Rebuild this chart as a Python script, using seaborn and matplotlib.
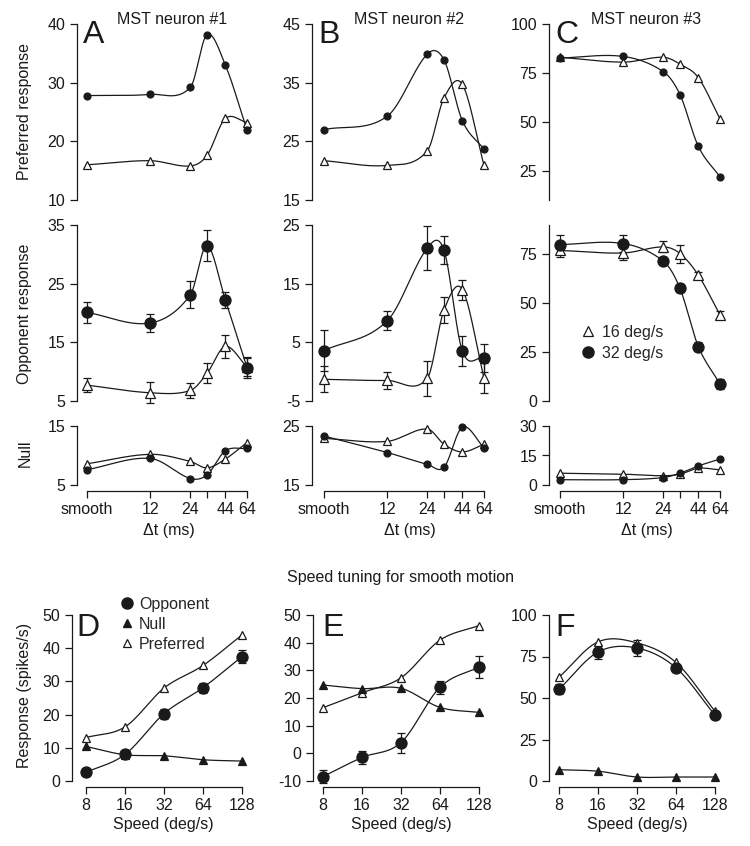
import numpy as np
import pandas as pd
import matplotlib
matplotlib.use('Agg')
import matplotlib.pyplot as plt
import seaborn as sns
from matplotlib.lines import Line2D

# delta-t conditions; 'smooth' is drawn at 4 ms on the log2 axis
dt_ms = [4, 12, 24, 32, 44, 64]
dt_labels = ['smooth', '12', '24', '', '44', '64']
speeds = [8, 16, 32, 64, 128]

# preferred response (top row): 32 deg/s filled, 16 deg/s open
pref32_A = [27.8, 28.0, 29.2, 38.2, 33.0, 21.9]
pref16_A = [16.0, 16.7, 15.8, 17.6, 23.9, 23.2]
pref32_B = [27.0, 29.3, 39.9, 38.9, 28.5, 23.7]
pref16_B = [21.7, 20.9, 23.4, 32.4, 34.7, 20.9]
pref32_C = [82.6, 83.4, 75.6, 63.9, 37.4, 21.8]
pref16_C = [83.0, 80.5, 83.0, 79.5, 72.5, 51.5]

# opponent response (middle row) with error bars
opp32_A = [20.1, 18.3, 23.1, 31.5, 22.2, 10.7]
opp32_A_err = [1.8, 1.5, 2.3, 2.7, 1.4, 1.8]
opp16_A = [7.7, 6.4, 6.8, 9.7, 14.3, 10.8]
opp16_A_err = [1.2, 1.8, 1.25, 1.7, 2.0, 1.5]
opp32_B = [3.6, 8.7, 21.1, 20.7, 3.5, 2.4]
opp32_B_err = [3.5, 1.6, 3.8, 2.4, 2.6, 2.4]
opp16_B = [-1.3, -1.5, -1.1, 10.5, 14.0, -1.1]
opp16_B_err = [2.2, 1.4, 3.0, 2.2, 1.7, 2.6]
opp32_C = [80.0, 80.5, 71.5, 57.6, 27.8, 8.7]
opp32_C_err = [5.0, 4.5, 1.5, 2.0, 2.3, 2.5]
opp16_C = [77.0, 75.7, 78.8, 75.4, 64.3, 44.0]
opp16_C_err = [3.5, 3.6, 2.8, 4.6, 1.7, 2.2]

# null response (third row)
null32_A = [7.6, 9.5, 6.1, 6.7, 10.8, 11.2]
null16_A = [8.6, 10.2, 9.0, 7.9, 9.4, 12.2]
null32_B = [23.3, 20.5, 18.5, 18.0, 24.8, 21.3]
null16_B = [22.9, 22.4, 24.5, 21.9, 20.6, 21.9]
null32_C = [2.7, 2.7, 3.8, 6.0, 9.7, 13.2]
null16_C = [6.0, 5.5, 4.7, 5.5, 8.5, 7.7]

# speed tuning for smooth motion (bottom row)
sp_opp_D = [2.6, 8.0, 20.3, 28.1, 37.5]
sp_opp_D_err = [1.0, 1.0, 1.5, 1.5, 2.0]
sp_null_D = [10.4, 7.9, 7.6, 6.4, 6.0]
sp_pref_D = [13.1, 16.3, 28.0, 34.8, 44.0]
sp_opp_E = [-8.4, -1.5, 3.9, 23.9, 31.2]
sp_opp_E_err = [2.4, 2.2, 3.6, 2.3, 4.0]
sp_null_E = [24.7, 23.4, 23.5, 16.6, 14.8]
sp_pref_E = [16.5, 21.9, 27.3, 40.9, 46.2]
sp_opp_F = [55.2, 77.7, 80.1, 68.2, 39.6]
sp_opp_F_err = [3.0, 4.5, 4.7, 2.5, 2.5]
sp_null_F = [6.8, 5.9, 2.4, 2.4, 2.4]
sp_pref_F = [62.5, 83.8, 83.2, 71.4, 42.0]

sns.set_theme(style='ticks')
plt.rcParams['font.family'] = ['Liberation Sans', 'DejaVu Sans']
plt.rcParams['axes.unicode_minus'] = False
FS = 11.5
INK = '#1a1a1a'

W, H = 750, 846
fig = plt.figure(figsize=(W / 100, H / 100), dpi=100)


def px_axes(left, top, right, bottom):
    return fig.add_axes([left / W, 1 - bottom / H, (right - left) / W, (bottom - top) / H])


def fig_text(x, y, s, **kw):
    fig.text(x / W, 1 - y / H, s, **kw)


def smooth_curve(x, y, n=60):
    # cubic Hermite with secant (Catmull-Rom style) tangents
    x = np.asarray(x, float)
    y = np.asarray(y, float)
    d = np.diff(y) / np.diff(x)
    m = np.empty_like(y)
    m[0], m[-1] = d[0], d[-1]
    m[1:-1] = (y[2:] - y[:-2]) / (x[2:] - x[:-2])
    xs, ys = [], []
    for i in range(len(x) - 1):
        h = x[i + 1] - x[i]
        t = np.linspace(0, 1, n)
        h00 = 2 * t ** 3 - 3 * t ** 2 + 1
        h10 = t ** 3 - 2 * t ** 2 + t
        h01 = -2 * t ** 3 + 3 * t ** 2
        h11 = t ** 3 - t ** 2
        xs.append(x[i] + t * h)
        ys.append(h00 * y[i] + h10 * h * m[i] + h01 * y[i + 1] + h11 * h * m[i + 1])
    return np.concatenate(xs), np.concatenate(ys)


def curve(ax, x, y):
    lx, ly = smooth_curve(np.log2(x), y)
    d = pd.DataFrame({'x': 2 ** lx, 'y': ly})
    sns.lineplot(data=d, x='x', y='y', ax=ax, color=INK, lw=0.9, sort=False,
                 estimator=None, zorder=2)


def series(ax, x, y, filled, ms, marker='o', err=None):
    curve(ax, x, y)
    if err is not None:
        ax.errorbar(x, y, yerr=err, fmt='none', ecolor=INK, elinewidth=0.9,
                    capsize=3.2, capthick=0.9, zorder=3, clip_on=False)
    ax.plot(x, y, ls='none', marker=marker, ms=ms, mec=INK, mew=0.9,
            mfc=INK if filled else 'white', zorder=4, clip_on=False)


def style(ax, yticks, ylim, xaxis, xticks=None, xlabels=None, xbounds=None, yb=None):
    ax.set_facecolor('none')
    ax.set_yticks(yticks)
    ax.set_yticklabels([str(t) for t in yticks])
    ax.set_ylim(*ylim)
    ax.set_xlabel('')
    ax.set_ylabel('')
    for s in ['top', 'right']:
        ax.spines[s].set_visible(False)
    ax.spines['left'].set_bounds(*(yb if yb else (yticks[0], yticks[-1])))
    ax.tick_params(axis='y', length=5, width=0.9, pad=3.5, labelsize=FS, colors=INK)
    if xaxis:
        ax.spines['bottom'].set_position(('outward', 4))
        ax.spines['bottom'].set_bounds(*xbounds)
        ax.set_xticks(xticks)
        ax.set_xticklabels(xlabels)
        ax.minorticks_off()
        ax.tick_params(axis='x', length=5, width=0.9, pad=3, labelsize=FS, colors=INK)
    else:
        ax.spines['bottom'].set_visible(False)
        ax.minorticks_off()
        ax.tick_params(axis='x', bottom=False, labelbottom=False, which='both')
    for s in ['left', 'bottom']:
        ax.spines[s].set_linewidth(0.9)
        ax.spines[s].set_color(INK)


# ---- delta-t panels ----
col_left = [77, 312, 549]
col_smooth = [87, 324, 560]
rows = [(24, 200), (225, 401), (426, 485)]

pref = [(pref32_A, pref16_A), (pref32_B, pref16_B), (pref32_C, pref16_C)]
opp = [(opp32_A, opp32_A_err, opp16_A, opp16_A_err),
       (opp32_B, opp32_B_err, opp16_B, opp16_B_err),
       (opp32_C, opp32_C_err, opp16_C, opp16_C_err)]
null = [(null32_A, null16_A), (null32_B, null16_B), (null32_C, null16_C)]

pref_ticks = [[10, 20, 30, 40], [15, 25, 35, 45], [25, 50, 75, 100]]
pref_lims = [(10, 40), (15, 45), (10, 100)]
opp_ticks = [[5, 15, 25, 35], [-5, 5, 15, 25], [0, 25, 50, 75]]
opp_lims = [(5, 35), (-5, 25), (0, 90)]
null_ticks = [[5, 15], [15, 25], [0, 15, 30]]

for c in range(3):
    left = col_left[c]
    sm = col_smooth[c]
    right = sm + 160 + 12
    xlim = (2 ** (2 - (sm - left) / 40), 2 ** (6 + 12 / 40))

    ax = px_axes(left, rows[0][0], right, rows[0][1])
    ax.set_xscale('log', base=2)
    series(ax, dt_ms, pref[c][1], False, 6, '^')
    series(ax, dt_ms, pref[c][0], True, 5)
    ax.set_xlim(*xlim)
    style(ax, pref_ticks[c], pref_lims[c], False,
          yb=(pref_lims[c][0], pref_ticks[c][-1]))

    ax = px_axes(left, rows[1][0], right, rows[1][1])
    ax.set_xscale('log', base=2)
    y32, e32, y16, e16 = opp[c]
    series(ax, dt_ms, y16, False, 6.5, '^', e16)
    series(ax, dt_ms, y32, True, 8, 'o', e32)
    ax.set_xlim(*xlim)
    style(ax, opp_ticks[c], opp_lims[c], False, yb=opp_lims[c])
    if c == 2:
        handles = [Line2D([], [], ls='none', marker='^', ms=6.5, mfc='white', mec=INK, mew=0.9),
                   Line2D([], [], ls='none', marker='o', ms=8, mfc=INK, mec=INK)]
        ax.legend(handles, ['16 deg/s', '32 deg/s'], loc='upper left',
                  bbox_to_anchor=(580 / W, 1 - 325 / H), bbox_transform=fig.transFigure,
                  frameon=False, fontsize=FS, handlelength=1.0, handletextpad=0.35,
                  labelspacing=0.35, borderpad=0, borderaxespad=0)

    ax = px_axes(left, rows[2][0], right, rows[2][1])
    ax.set_xscale('log', base=2)
    series(ax, dt_ms, null[c][1], False, 6, '^')
    series(ax, dt_ms, null[c][0], True, 5)
    ax.set_xlim(*xlim)
    style(ax, null_ticks[c], (null_ticks[c][0], null_ticks[c][-1]), True,
          dt_ms, dt_labels, (4, 64))

# ---- speed tuning panels ----
sp_left = [72, 313, 549]
sp_eight = [86, 323, 559]
sp_data = [(sp_opp_D, sp_opp_D_err, sp_null_D, sp_pref_D),
           (sp_opp_E, sp_opp_E_err, sp_null_E, sp_pref_E),
           (sp_opp_F, sp_opp_F_err, sp_null_F, sp_pref_F)]
sp_ticks = [[0, 10, 20, 30, 40, 50], [-10, 0, 10, 20, 30, 40, 50], [0, 25, 50, 75, 100]]

for c in range(3):
    left = sp_left[c]
    e8 = sp_eight[c]
    right = e8 + 4 * 39 + 12
    xlim = (2 ** (3 - (e8 - left) / 39), 2 ** (7 + 12 / 39))
    ax = px_axes(left, 615, right, 781)
    ax.set_xscale('log', base=2)
    o, oe, nl, pr = sp_data[c]
    series(ax, speeds, pr, False, 6, '^')
    series(ax, speeds, nl, True, 6, '^')
    series(ax, speeds, o, True, 8, 'o', oe)
    ax.set_xlim(*xlim)
    style(ax, sp_ticks[c], (sp_ticks[c][0], sp_ticks[c][-1]), True,
          speeds, [str(s) for s in speeds], (8, 128))
    if c == 0:
        handles = [Line2D([], [], ls='none', marker='o', ms=8, mfc=INK, mec=INK),
                   Line2D([], [], ls='none', marker='^', ms=6, mfc=INK, mec=INK),
                   Line2D([], [], ls='none', marker='^', ms=5.5, mfc='white', mec=INK, mew=0.9)]
        ax.legend(handles, ['Opponent', 'Null', 'Preferred'], loc='upper left',
                  bbox_to_anchor=(119 / W, 1 - 597 / H), bbox_transform=fig.transFigure,
                  frameon=False, fontsize=FS, handlelength=1.0, handletextpad=0.25,
                  labelspacing=0.3, borderpad=0, borderaxespad=0)

# ---- texts ----
for x, s in zip([172, 409, 646], ['MST neuron #1', 'MST neuron #2', 'MST neuron #3']):
    fig_text(x, 19, s, ha='center', va='center', fontsize=FS, color=INK)
for x, s in zip([83, 318, 555], 'ABC'):
    fig_text(x, 43, s, ha='left', va='baseline', fontsize=23, color=INK)
for x, s in zip([76, 322, 555], 'DEF'):
    fig_text(x, 636, s, ha='left', va='baseline', fontsize=23, color=INK)
for x in [169, 410, 647]:
    fig_text(x, 530, '\u0394t (ms)', ha='center', va='center', fontsize=FS, color=INK)
for x in [163, 401, 637]:
    fig_text(x, 824, 'Speed (deg/s)', ha='center', va='center', fontsize=FS, color=INK)
fig_text(401, 577, 'Speed tuning for smooth motion', ha='center', va='center',
         fontsize=FS, color=INK)
fig_text(25, 112, 'Preferred response', ha='center', va='center', rotation=90,
         fontsize=FS, color=INK)
fig_text(25, 314, 'Opponent response', ha='center', va='center', rotation=90,
         fontsize=FS, color=INK)
fig_text(25, 453, 'Null', ha='center', va='center', rotation=90, fontsize=FS, color=INK)
fig_text(25, 695, 'Response (spikes/s)', ha='center', va='center', rotation=90,
         fontsize=FS, color=INK)

fig.savefig('out.png', dpi=100, facecolor='white')
